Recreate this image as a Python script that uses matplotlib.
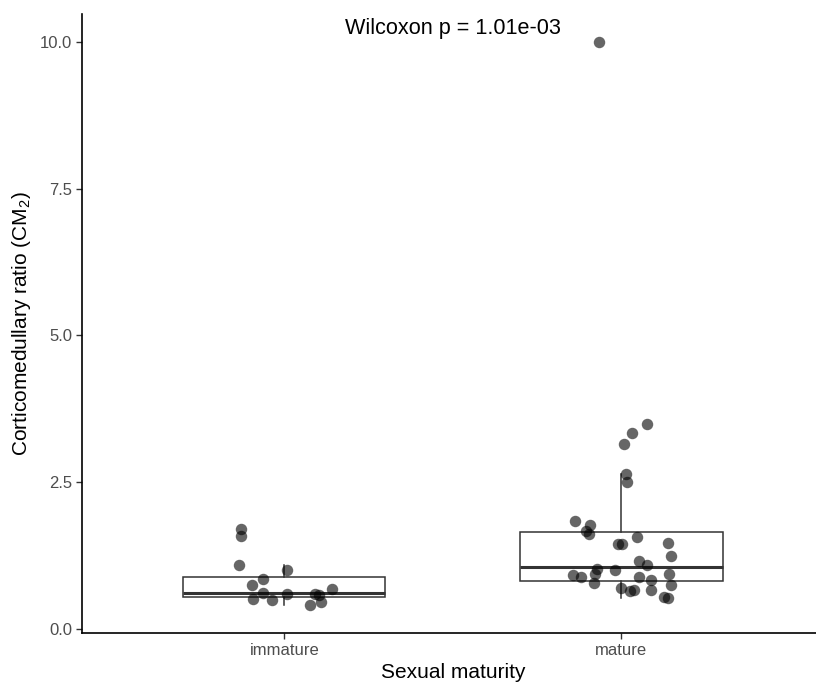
import matplotlib
matplotlib.use("Agg")
import matplotlib.pyplot as plt

plt.rcParams['font.family'] = ['Liberation Sans', 'DejaVu Sans']
plt.rcParams['mathtext.fontset'] = 'custom'
plt.rcParams['mathtext.rm'] = 'Liberation Sans'
plt.rcParams['mathtext.it'] = 'Liberation Sans:italic'

groups = ["immature", "mature"]

# box statistics
q1 = [0.545, 0.81]
med = [0.61, 1.05]
q3 = [0.886, 1.65]
whis_lo = [0.40, 0.52]
whis_hi = [1.08, 2.64]

# jittered points: horizontal offset from the group centre, and value
imm_dx = [-0.128, -0.128, -0.134, 0.009, -0.062, -0.095, -0.062, 0.009,
          -0.092, -0.036, 0.092, 0.104, 0.142, 0.077, 0.110]
imm_y = [1.70, 1.58, 1.08, 1.005, 0.85, 0.74, 0.61, 0.59,
         0.51, 0.49, 0.59, 0.58, 0.68, 0.40, 0.455]

mat_dx = [-0.068, 0.077, 0.030, 0.009, 0.012, 0.015, -0.139, -0.092, -0.104,
          -0.095, 0.047, -0.009, 0.003, 0.139, 0.148, 0.053, 0.077, -0.074,
          -0.018, -0.077, -0.080, -0.145, -0.119, 0.053, 0.089, 0.142, 0.148,
          0.0, 0.024, 0.036, 0.089, 0.125, 0.139]
mat_y = [10.0, 3.50, 3.33, 3.15, 2.64, 2.50, 1.83, 1.77, 1.67,
         1.62, 1.56, 1.45, 1.45, 1.46, 1.25, 1.16, 1.08, 1.02,
         1.00, 0.94, 0.78, 0.91, 0.88, 0.89, 0.83, 0.94, 0.75,
         0.69, 0.64, 0.665, 0.665, 0.54, 0.52]

p_label = "Wilcoxon p = 1.01e-03"

fig = plt.figure(figsize=(8.16, 6.84), dpi=100)
ax = fig.add_axes([0.1005, 0.0746, 0.909, 0.905])

stats = []
for i in range(2):
    stats.append(dict(q1=q1[i], med=med[i], q3=q3[i],
                      whislo=whis_lo[i], whishi=whis_hi[i], fliers=[]))

ax.bxp(stats, positions=[1, 2], widths=0.6, patch_artist=True,
       showcaps=False, showfliers=False,
       boxprops=dict(facecolor='white', edgecolor='#333333', linewidth=1.1),
       whiskerprops=dict(color='#333333', linewidth=1.1),
       medianprops=dict(color='#333333', linewidth=2.2),
       zorder=2)

ax.scatter([1 + d for d in imm_dx], imm_y, s=68, color='black',
           alpha=0.6, linewidths=0, zorder=3)
ax.scatter([2 + d for d in mat_dx], mat_y, s=68, color='black',
           alpha=0.6, linewidths=0, zorder=3)

ax.text(1.5, 10.24, p_label, ha='center', va='center', fontsize=15.6,
        color='black')

ax.set_xlim(0.4, 2.6)
ax.set_ylim(-0.07, 10.48)
ax.set_xticks([1, 2])
ax.set_xticklabels(groups)
ax.set_yticks([0, 2.5, 5.0, 7.5, 10.0])
ax.set_yticklabels(["0.0", "2.5", "5.0", "7.5", "10.0"])

for s in ['top', 'right']:
    ax.spines[s].set_visible(False)
for s in ['left', 'bottom']:
    ax.spines[s].set_linewidth(1.2)
    ax.spines[s].set_color('black')

ax.tick_params(axis='both', length=4, width=1, color='#333333',
               labelsize=12, labelcolor='#4d4d4d', pad=3)

ax.set_xlabel("Sexual maturity", fontsize=15, labelpad=4)
ax.set_ylabel(r"Corticomedullary ratio (CM$_2$)", fontsize=15, labelpad=5)

fig.savefig("out.png", dpi=100)
